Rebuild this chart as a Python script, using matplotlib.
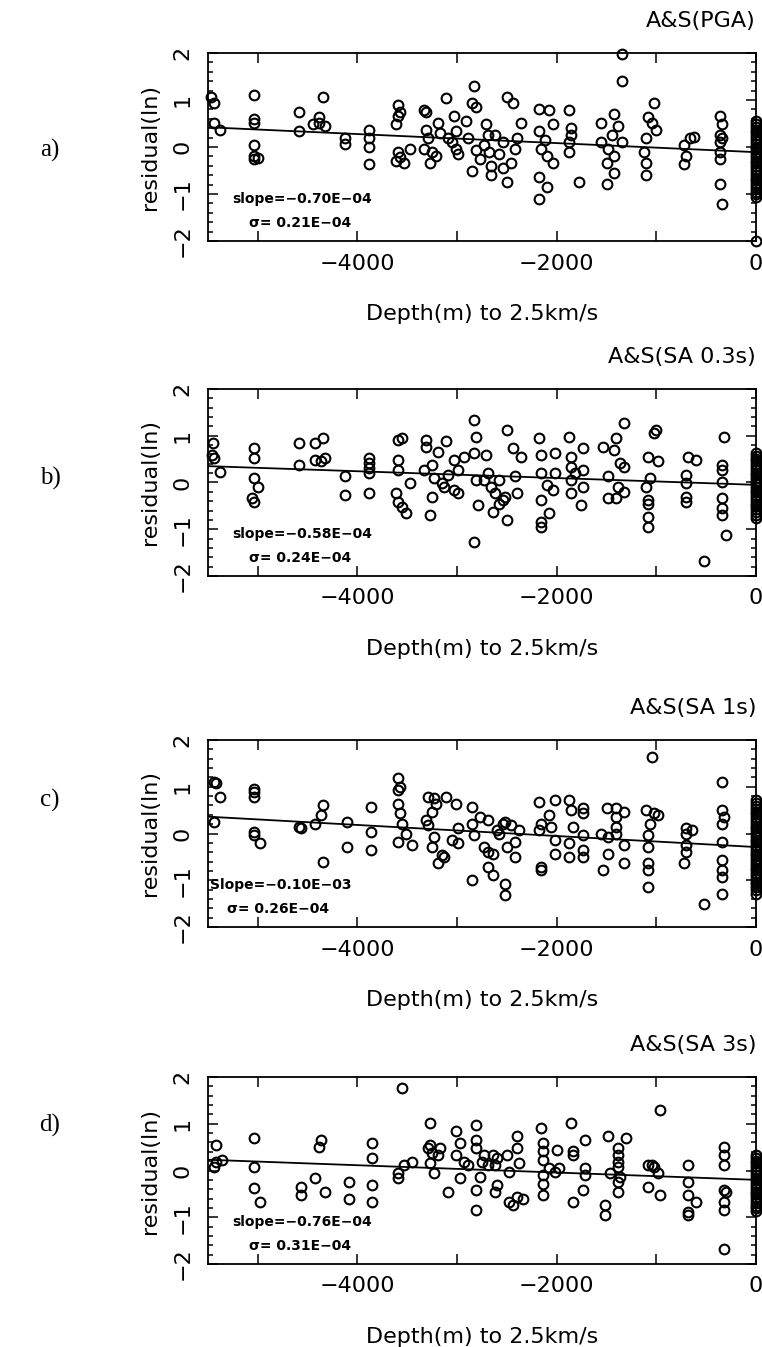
import matplotlib
matplotlib.use("Agg")
import matplotlib.pyplot as plt
from matplotlib.ticker import MultipleLocator
import numpy as np

# panel labels, titles and fit annotations
panel_tags = ['a)', 'b)', 'c)', 'd)']
titles = ['A&S(PGA)', 'A&S(SA 0.3s)', 'A&S(SA 1s)', 'A&S(SA 3s)']
slope_txt = ['slope=\u22120.70E\u221204', 'slope=\u22120.58E\u221204',
             'Slope=\u22120.10E\u221203', 'slope=\u22120.76E\u221204']
sigma_txt = ['\u03c3= 0.21E\u221204', '\u03c3= 0.24E\u221204',
             '\u03c3= 0.26E\u221204', '\u03c3= 0.31E\u221204']

# fitted line ends (value at depth -5500 and at 0)
fit_x = [-5500, 0]
fit_y = [[0.42, -0.11], [0.35, -0.05], [0.36, -0.29], [0.23, -0.20]]

# residuals (depth m, ln residual)
pga = [(-5441, 0.94), (-5469, 1.07), (-5441, 0.52), (-5381, 0.37),
       (-5043, 1.11), (-5043, 0.59), (-5043, 0.52), (-5043, 0.04), (-5043, -0.19), (-5043, -0.26), (-5003, -0.24),
       (-4585, 0.74), (-4585, 0.33),
       (-4446, 0.48), (-4386, 0.63), (-4346, 1.07), (-4326, 0.44), (-4386, 0.52),
       (-4127, 0.19), (-4127, 0.07),
       (-3888, 0.37), (-3888, 0.19), (-3888, 0.0), (-3888, -0.37),
       (-3590, 0.89), (-3570, 0.74), (-3590, 0.67), (-3610, 0.48), (-3590, -0.11), (-3610, -0.30), (-3530, -0.33), (-3570, -0.22),
       (-3471, -0.04),
       (-3331, 0.78), (-3311, 0.74), (-3311, 0.37), (-3291, 0.19), (-3331, -0.04), (-3252, -0.11), (-3212, -0.19),
       (-3272, -0.33), (-3192, 0.52), (-3172, 0.30),
       (-3112, 1.04), (-3033, 0.67), (-3013, 0.33), (-3053, 0.11), (-3013, -0.04), (-2993, -0.15), (-3092, 0.19),
       (-2834, 1.30), (-2854, 0.93), (-2814, 0.85), (-2913, 0.56), (-2893, 0.19), (-2814, -0.07), (-2854, -0.52),
       (-2714, 0.48), (-2694, 0.26), (-2734, 0.04), (-2675, -0.11), (-2774, -0.26), (-2655, -0.41), (-2655, -0.59), (-2615, 0.26),
       (-2495, 1.07), (-2436, 0.93), (-2356, 0.52), (-2535, 0.11), (-2416, -0.04), (-2575, -0.15), (-2456, -0.33),
       (-2535, -0.44), (-2495, -0.74), (-2396, 0.19),
       (-2177, 0.81), (-2078, 0.78), (-2038, 0.48), (-2177, 0.33), (-2117, 0.15), (-2157, -0.04), (-2097, -0.19),
       (-2038, -0.33), (-2177, -0.63), (-2097, -0.85), (-2177, -1.11),
       (-1879, 0.78), (-1859, 0.41), (-1859, 0.26), (-1879, 0.11), (-1879, -0.11),
       (-1779, -0.74),
       (-1560, 0.52), (-1421, 0.70), (-1441, 0.26), (-1560, 0.11), (-1481, -0.04), (-1421, -0.19), (-1500, -0.33),
       (-1421, -0.56), (-1500, -0.78), (-1341, 0.11), (-1381, 0.44),
       (-1341, 1.97), (-1341, 1.41),
       (-1023, 0.93), (-1082, 0.63), (-1043, 0.52), (-1003, 0.37), (-1102, 0.19), (-1122, -0.11), (-1102, -0.33), (-1102, -0.59),
       (-665, 0.19), (-724, 0.04), (-704, -0.19), (-724, -0.37), (-625, 0.22),
       (-366, 0.67), (-346, 0.48), (-366, 0.26), (-346, 0.19), (-366, 0.11), (-366, -0.11), (-366, -0.26), (-366, -0.78), (-346, -1.22),
       (0, 0.55), (0, 0.49), (0, 0.43), (0, 0.37), (0, 0.31), (0, 0.25), (0, 0.19), (0, 0.13), (0, 0.07), (0, 0.01),
       (0, -0.05), (0, -0.11), (0, -0.17), (0, -0.23), (0, -0.29), (0, -0.35), (0, -0.41), (0, -0.47), (0, -0.53),
       (0, -0.59), (0, -0.65), (0, -0.71), (0, -0.77), (0, -0.83), (0, -0.89), (0, -0.95), (0, -1.01), (0, -1.07),
       (0, -2.0)]

sa03 = [(-5453, 0.84), (-5441, 0.52), (-5381, 0.23), (-5461, 0.59),
        (-5043, 0.73), (-5043, 0.52), (-5043, 0.09), (-5003, -0.09), (-5063, -0.34), (-5043, -0.41),
        (-4585, 0.84), (-4585, 0.38),
        (-4426, 0.84), (-4346, 0.95), (-4426, 0.48), (-4366, 0.45), (-4326, 0.52),
        (-4127, 0.13), (-4127, -0.27),
        (-3888, 0.52), (-3888, 0.41), (-3888, 0.30), (-3888, 0.20), (-3888, -0.23),
        (-3590, 0.91), (-3550, 0.95), (-3590, 0.48), (-3590, 0.27), (-3610, -0.23), (-3590, -0.41), (-3550, -0.52), (-3510, -0.66),
        (-3471, -0.02),
        (-3311, 0.91), (-3311, 0.77), (-3192, 0.66), (-3252, 0.38), (-3331, 0.27), (-3232, 0.09), (-3152, -0.02),
        (-3252, -0.30), (-3272, -0.70), (-3112, 0.88),
        (-3033, 0.48), (-2993, 0.27), (-3092, 0.16), (-3033, -0.16), (-2993, -0.23), (-3132, -0.09),
        (-2834, 1.34), (-2814, 0.98), (-2834, 0.63), (-2933, 0.55), (-2814, 0.05), (-2794, -0.48), (-2834, -1.27), (-2714, 0.59),
        (-2694, 0.20), (-2734, 0.05), (-2655, -0.09), (-2615, -0.23), (-2535, -0.38), (-2635, -0.63), (-2495, -0.81),
        (-2495, 1.13), (-2436, 0.73), (-2356, 0.55), (-2416, 0.13), (-2575, -0.45), (-2396, -0.23), (-2515, -0.30), (-2575, 0.05),
        (-2177, 0.95), (-2018, 0.63), (-2157, 0.20), (-2097, -0.05), (-2038, -0.16), (-2157, -0.38), (-2078, -0.66),
        (-2157, -0.84), (-2157, -0.95), (-2157, 0.59), (-2018, 0.20),
        (-1879, 0.98), (-1859, 0.55), (-1859, 0.34), (-1819, 0.20), (-1859, 0.05), (-1739, -0.09), (-1859, -0.23),
        (-1759, -0.48), (-1739, 0.73), (-1739, 0.27),
        (-1321, 1.27), (-1401, 0.95), (-1540, 0.77), (-1421, 0.70), (-1361, 0.41), (-1481, 0.13), (-1381, -0.09),
        (-1481, -0.34), (-1321, 0.34), (-1321, -0.20), (-1401, -0.34),
        (-1023, 1.06), (-1003, 1.13), (-1082, 0.55), (-983, 0.45), (-1063, 0.09), (-1102, -0.09), (-1082, -0.38),
        (-1082, -0.73), (-1082, -0.95), (-1082, -0.45),
        (-685, 0.55), (-605, 0.48), (-704, 0.16), (-704, -0.02), (-704, -0.30), (-704, -0.41),
        (-525, -1.67),
        (-326, 0.98), (-346, 0.38), (-346, 0.27), (-346, 0.02), (-346, -0.34), (-346, -0.55), (-346, -0.70), (-306, -1.13),
        (0, 0.63), (0, 0.57), (0, 0.51), (0, 0.45), (0, 0.39), (0, 0.33), (0, 0.27), (0, 0.21), (0, 0.15), (0, 0.09),
        (0, 0.03), (0, -0.03), (0, -0.09), (0, -0.15), (0, -0.21), (0, -0.27), (0, -0.33), (0, -0.39), (0, -0.45),
        (0, -0.51), (0, -0.57), (0, -0.63), (0, -0.69), (0, -0.75)]

sa1 = [(-5441, 1.11), (-5421, 1.07), (-5381, 0.79), (-5441, 0.25),
       (-5043, 0.96), (-5043, 0.89), (-5043, 0.79), (-5043, 0.04), (-5043, -0.04), (-4983, -0.21),
       (-4585, 0.14), (-4565, 0.11),
       (-4426, 0.21), (-4366, 0.39), (-4346, 0.61), (-4346, -0.61),
       (-4107, 0.25), (-4107, -0.29),
       (-3869, 0.57), (-3869, 0.04), (-3869, -0.36),
       (-3590, 1.18), (-3570, 1.0), (-3590, 0.93), (-3590, 0.64), (-3570, 0.43), (-3550, 0.21), (-3510, 0.0),
       (-3590, -0.18), (-3451, -0.25),
       (-3291, 0.79), (-3232, 0.75), (-3252, 0.46), (-3311, 0.29), (-3291, 0.18), (-3232, -0.07), (-3252, -0.29),
       (-3132, -0.5), (-3192, -0.64), (-3112, 0.79), (-3212, 0.64), (-3152, -0.46),
       (-2993, 0.11), (-3053, -0.14), (-2993, -0.21), (-3013, 0.64),
       (-2854, 0.57), (-2854, 0.21), (-2834, -0.04), (-2854, -1.0), (-2774, 0.36), (-2694, 0.29),
       (-2734, -0.29), (-2694, -0.39), (-2635, -0.43), (-2694, -0.71), (-2635, -0.89), (-2595, 0.07), (-2535, 0.21),
       (-2515, 0.25), (-2456, 0.18), (-2575, 0.0), (-2495, -0.29), (-2416, -0.5), (-2515, -1.07), (-2515, -1.32),
       (-2416, -0.18), (-2376, 0.07),
       (-2177, 0.68), (-2018, 0.71), (-2078, 0.39), (-2157, 0.21), (-2177, 0.07), (-2018, -0.14), (-2018, -0.43),
       (-2157, -0.71), (-2157, -0.79), (-2058, 0.14),
       (-1879, 0.71), (-1739, 0.54), (-1739, 0.43), (-1839, 0.14), (-1739, -0.04), (-1879, -0.21), (-1739, -0.36),
       (-1879, -0.5), (-1739, -0.5), (-1859, 0.5),
       (-1500, 0.54), (-1401, 0.54), (-1321, 0.46), (-1401, 0.36), (-1401, 0.14), (-1560, 0.0), (-1481, -0.07),
       (-1321, -0.25), (-1481, -0.43), (-1540, -0.79), (-1321, -0.64), (-1401, 0.0),
       (-1043, 1.64), (-1102, 0.5), (-1023, 0.43), (-1063, 0.21), (-1082, -0.04), (-1082, -0.29), (-1082, -0.64),
       (-1082, -0.79), (-1082, -1.14), (-983, 0.39),
       (-704, 0.11), (-645, 0.07), (-704, 0.0), (-704, -0.25), (-704, -0.39), (-724, -0.64),
       (-525, -1.5),
       (-346, 1.11), (-346, 0.5), (-326, 0.36), (-346, 0.21), (-346, -0.18), (-346, -0.57), (-346, -0.79), (-346, -0.93), (-346, -1.29),
       (0, 0.71), (0, 0.65), (0, 0.59), (0, 0.53), (0, 0.47), (0, 0.41), (0, 0.35), (0, 0.29), (0, 0.23), (0, 0.17),
       (0, 0.11), (0, 0.05), (0, -0.01), (0, -0.07), (0, -0.13), (0, -0.19), (0, -0.25), (0, -0.31), (0, -0.37),
       (0, -0.43), (0, -0.49), (0, -0.55), (0, -0.61), (0, -0.67), (0, -0.73), (0, -0.79), (0, -0.85), (0, -0.91),
       (0, -0.97), (0, -1.03), (0, -1.09), (0, -1.15), (0, -1.21), (0, -1.29)]

sa3 = [(-5421, 0.55), (-5421, 0.19), (-5441, 0.08), (-5361, 0.23),
       (-5043, 0.69), (-5043, 0.08), (-5043, -0.38), (-4983, -0.67),
       (-4565, -0.35), (-4565, -0.53),
       (-4386, 0.51), (-4366, 0.66), (-4426, -0.17), (-4326, -0.46),
       (-4087, -0.24), (-4087, -0.60),
       (-3849, 0.59), (-3849, 0.26), (-3849, -0.31), (-3849, -0.67),
       (-3550, 1.77), (-3590, -0.06), (-3590, -0.17), (-3530, 0.12), (-3451, 0.19),
       (-3272, 1.02), (-3272, 0.55), (-3172, 0.48), (-3252, 0.37), (-3272, 0.15), (-3232, -0.06), (-3092, -0.46),
       (-3192, 0.33), (-3291, 0.48),
       (-3013, 0.84), (-2973, 0.59), (-3013, 0.33), (-2893, 0.12), (-2973, -0.17), (-2933, 0.19),
       (-2814, 0.98), (-2814, 0.66), (-2814, 0.48), (-2734, 0.33), (-2694, 0.12), (-2774, -0.13), (-2814, -0.42),
       (-2814, -0.85), (-2635, 0.33), (-2754, 0.19),
       (-2595, 0.26), (-2615, 0.12), (-2475, -0.03), (-2595, -0.31), (-2615, -0.46), (-2396, -0.56), (-2475, -0.67),
       (-2495, 0.33), (-2396, 0.73), (-2396, 0.48), (-2376, 0.15), (-2436, -0.74), (-2336, -0.60),
       (-2157, 0.91), (-2137, 0.59), (-2137, 0.41), (-2137, 0.23), (-2078, 0.05), (-2137, -0.10), (-2137, -0.28),
       (-2137, -0.53), (-2018, -0.03), (-1978, 0.05), (-1998, 0.44),
       (-1859, 1.02), (-1839, 0.41), (-1839, 0.33), (-1719, 0.05), (-1719, -0.10), (-1739, -0.42), (-1839, -0.67), (-1719, 0.66),
       (-1481, 0.73), (-1301, 0.69), (-1381, 0.48), (-1381, 0.33), (-1381, 0.19), (-1381, 0.08), (-1461, -0.06),
       (-1381, -0.24), (-1381, -0.46), (-1520, -0.74), (-1520, -0.96), (-1361, -0.13),
       (-963, 1.30), (-1082, 0.12), (-1023, 0.08), (-983, -0.06), (-1082, -0.35), (-963, -0.53), (-1043, 0.12),
       (-685, 0.12), (-685, -0.24), (-685, -0.53), (-605, -0.67), (-685, -0.89), (-685, -0.96),
       (-326, 0.51), (-326, 0.33), (-326, 0.12), (-326, -0.42), (-306, -0.46), (-326, -0.67), (-326, -0.85), (-326, -1.68),
       (0, 0.33), (0, 0.27), (0, 0.21), (0, 0.15), (0, 0.09), (0, 0.03), (0, -0.03), (0, -0.09), (0, -0.15),
       (0, -0.21), (0, -0.27), (0, -0.33), (0, -0.39), (0, -0.45), (0, -0.51), (0, -0.57), (0, -0.63), (0, -0.69),
       (0, -0.75), (0, -0.81), (0, -0.87)]

panels = [pga, sa03, sa1, sa3]

#*********************************************************************************
W, H = 762, 1347
fig = plt.figure(figsize=(W / 100, H / 100), dpi=100)

# axes boxes in pixels: top, bottom
ax_left, ax_right = 208, 756
ax_rows = [(53, 241), (389, 576), (740, 927), (1077, 1264)]
tag_y = [150, 478, 800, 1125]

for i, (top, bot) in enumerate(ax_rows):
    ax = fig.add_axes([ax_left / W, 1 - bot / H, (ax_right - ax_left) / W, (bot - top) / H])
    pts = np.array(panels[i])
    ax.plot(pts[:, 0], pts[:, 1], 'o', mfc='none', mec='k', ms=7, mew=1.5, clip_on=False, zorder=3)
    ax.plot(fit_x, fit_y[i], '-', color='k', lw=1.3)

    ax.set_xlim(-5500, 0)
    ax.set_ylim(-2, 2)
    ax.set_xticks([-4000, -2000, 0])
    ax.set_xticks([-5000, -3000, -1000], minor=True)
    ax.set_yticks([-2, -1, 0, 1, 2])
    ax.yaxis.set_minor_locator(MultipleLocator(0.2))
    ax.tick_params(which='both', direction='in', top=True, right=True, width=1.1)
    ax.tick_params(axis='x', which='both', length=7, pad=9, labelsize=16)
    ax.tick_params(axis='y', which='major', length=7, pad=11, labelsize=16, labelrotation=90)
    ax.tick_params(axis='y', which='minor', length=3.5)
    for lab in ax.get_yticklabels():
        lab.set_va('center')
    for s in ax.spines.values():
        s.set_linewidth(1.3)

    ax.set_xlabel('Depth(m) to 2.5km/s', fontsize=16)
    ax.xaxis.set_label_coords(0.5, -63 / (bot - top))
    ax.set_ylabel('residual(ln)', fontsize=16, va='center')
    ax.yaxis.set_label_coords(-58 / (ax_right - ax_left), 0.5)

    ax.text(1.0, 1.17, titles[i], transform=ax.transAxes, ha='right', va='center', fontsize=16)
    sx = 0.004 if i == 2 else 0.045
    ax.text(sx, 0.225, slope_txt[i], transform=ax.transAxes, ha='left', va='center',
            fontsize=10, fontweight='bold')
    ax.text(sx + 0.03, 0.097, sigma_txt[i], transform=ax.transAxes, ha='left', va='center',
            fontsize=10, fontweight='bold')

    fig.text(50 / W, 1 - tag_y[i] / H, panel_tags[i], ha='center', va='center',
             fontsize=18, family='Liberation Serif')

plt.savefig('out.png', dpi=100)
plt.close()
